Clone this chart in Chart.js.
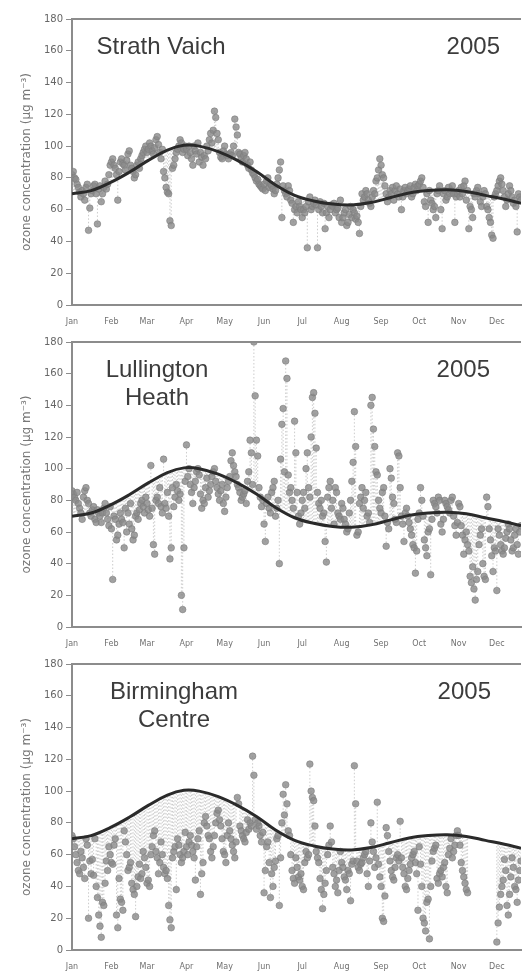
<!DOCTYPE html>
<html>
<head>
<meta charset="utf-8">
<title>Ozone concentration 2005</title>
<script src="https://cdn.jsdelivr.net/npm/chart.js"></script>
<style>
  html, body { margin: 0; padding: 0; background: #fff; overflow: hidden; }
  canvas { position: absolute; left: 0; }
</style>
</head>
<body>
<canvas id="c1" width="526" height="330" style="top:0px"></canvas>
<canvas id="c2" width="526" height="322" style="top:330px"></canvas>
<canvas id="c3" width="526" height="319" style="top:652px"></canvas>
<script>
const monthLabels = ["Jan", "Feb", "Mar", "Apr", "May", "Jun", "Jul", "Aug", "Sep", "Oct", "Nov", "Dec"];
const monthStarts = [0, 31, 59, 90, 120, 151, 181, 212, 243, 273, 304, 334];
const lastDay = 353;
const yTicks = [0, 20, 40, 60, 80, 100, 120, 140, 160, 180];

// seasonal curve (same in every panel), day of year -> ug m-3
const curveDays = [0, 15, 30, 45, 60, 75, 88, 100, 115, 130, 145, 160, 175, 190, 205, 220, 235, 250, 265, 280, 295, 310, 325, 340, 353];
const curveValues = [70, 72, 77, 83.5, 91, 97.5, 100.5, 100, 96.5, 91, 84, 75.5, 69, 65.5, 63.5, 63, 64.5, 67.5, 70.5, 72, 72.5, 71.5, 69, 66.5, 64];

// daily values, one per day from 1 Jan
const strathVaich = [
  82,84,80,79,76,74,71,68,72,70,66,74,76,47,61,70,72,75,76,70,51,73,75,65,70,74,78,73,76,82,88, // Jan
  90,92,88,86,82,66,84,90,92,89,88,85,91,95,97,88,86,84,80,82,88,90,86,92,94,96,98,100, // Feb
  96,98,102,100,97,95,99,104,106,101,96,92,98,84,80,74,71,70,53,50,86,88,92,96,98,100,104,102,96,98,100, // Mar
  98,94,100,96,92,88,100,97,95,102,90,96,93,88,94,92,100,97,104,108,102,110,122,118,108,104,96,93,92,97, // Apr
  100,95,94,92,95,96,94,100,117,112,107,96,95,92,90,94,96,92,88,86,90,85,83,82,80,78,79,76,75,74,73, // May
  76,72,78,80,74,76,75,73,70,72,76,80,85,90,55,75,72,70,68,75,72,66,64,52,60,62,58,65,62,60, // Jun
  55,60,58,62,36,65,68,60,62,64,66,63,36,60,65,62,58,64,48,58,62,55,60,63,62,64,58,60,61,55,66, // Jul
  52,55,58,60,50,52,57,62,55,60,58,54,56,52,45,62,70,66,68,72,70,66,64,62,68,72,70,78,80,85,92, // Aug
  88,82,80,75,70,65,68,72,70,74,66,72,75,70,68,73,60,68,72,74,70,72,73,75,68,70,74,76,72,75, // Sep
  76,78,80,74,65,62,70,52,72,66,64,60,62,55,70,72,75,60,48,70,72,66,68,74,70,72,75,70,52,68,70, // Oct
  72,68,74,70,75,78,66,72,48,62,60,55,70,68,72,74,70,65,62,68,72,70,62,60,55,52,44,42,68,70, // Nov
  72,75,78,80,76,72,68,62,66,70,75,72,68,64,66,62,46,70,68,66 // Dec
];

const lullingtonHeath = [
  86,84,82,80,85,78,75,72,68,82,86,88,80,78,72,70,74,76,68,66,74,72,70,66,72,75,78,72,68,64,76, // Jan
  62,30,70,68,55,58,65,72,68,66,50,75,60,72,65,78,62,55,58,70,72,68,74,78,80,76,72,82, // Feb
  78,74,70,102,75,52,46,80,82,78,88,76,72,106,78,75,85,70,43,50,88,76,82,90,86,80,84,20,11,50,92, // Mar
  115,95,100,90,85,78,88,92,98,100,96,84,75,80,78,88,94,82,86,90,95,98,100,92,88,84,80,86,90,78, // Apr
  73,82,88,92,95,105,110,102,98,95,90,88,85,80,82,84,86,78,92,98,118,110,90,180,146,118,108,88,82,76,80, // May
  65,54,78,82,75,72,85,88,92,70,75,80,40,106,128,138,98,168,157,96,85,88,80,75,130,110,85,70,65,72, // Jun
  80,85,75,100,110,88,82,120,145,148,135,113,85,78,75,80,70,72,54,41,82,88,92,75,80,65,88,85,72,70,68, // Jul
  78,75,68,65,60,62,72,80,92,104,136,114,58,60,78,82,88,75,80,85,70,72,66,140,145,125,114,98,96,80,75, // Aug
  72,85,88,70,51,66,62,100,94,82,78,68,66,110,108,88,70,65,54,72,75,70,66,62,58,52,50,34,48,68, // Sep
  72,88,80,70,55,50,45,60,62,33,68,80,78,76,72,82,80,65,60,68,80,78,76,74,72,80,82,70,64,58,66, // Oct
  78,76,64,58,46,55,60,52,48,32,28,38,24,17,30,35,52,58,62,40,32,30,82,76,62,55,45,35,50,48, // Nov
  23,62,58,52,48,46,50,56,60,65,62,55,48,50,58,62,52,46,60,64 // Dec
];

const birminghamCentre = [
  72,70,65,60,55,50,48,62,58,52,45,70,66,20,56,48,57,47,70,40,33,22,15,8,30,28,42,56,50,65,60, // Jan
  55,54,66,70,22,14,45,32,30,25,75,68,60,50,52,55,42,38,35,21,40,46,54,45,48,62,58,52, // Feb
  42,44,40,60,65,72,75,62,58,48,55,68,60,52,48,50,45,28,19,14,58,62,65,38,70,66,60,55,58,62,74, // Mar
  65,60,68,72,66,62,58,44,65,70,75,35,48,55,80,84,78,72,70,62,58,65,72,80,86,88,82,78,70,62, // Apr
  60,55,72,80,75,70,66,62,58,68,96,92,78,75,72,70,68,74,82,76,80,78,122,110,82,76,80,78,72,68,74, // May
  36,50,65,68,55,33,48,40,52,56,70,72,28,58,80,98,85,104,92,75,72,60,50,45,42,58,52,46,44,48, // Jun
  40,38,55,62,58,60,117,100,96,94,78,62,58,55,45,38,26,35,42,50,60,66,78,68,52,48,40,44,36,50,62, // Jul
  55,52,46,44,38,50,48,31,54,56,116,92,56,52,50,54,55,58,60,62,48,40,56,80,68,62,52,58,93,54,46, // Aug
  40,20,18,34,77,72,62,56,50,46,44,52,58,60,56,81,58,52,48,40,38,45,50,54,58,60,62,55,48,25, // Sep
  65,54,40,20,17,12,30,32,7,40,56,62,64,66,45,42,48,50,46,52,55,40,36,60,64,70,58,62,66,72,75, // Oct
  72,66,55,50,46,42,38,36,null,null,null,null,null,null,null,null,null,null,null,null,null,null,null,null,null,null,null,null,null,null, // Nov
  5,17,27,35,40,44,57,50,28,22,35,46,58,52,40,38,30,44,50,56 // Dec
];

const panels = [
  { id: "c1", values: strathVaich, name: ["Strath Vaich"], padTop: 19, xAxisHeight: 25, nameX: 89, yearX: 428 },
  { id: "c2", values: lullingtonHeath, name: ["Lullington", "Heath"], padTop: 12, xAxisHeight: 25, nameX: 85, yearX: 418 },
  { id: "c3", values: birminghamCentre, name: ["Birmingham", "Centre"], padTop: 12, xAxisHeight: 21, nameX: 102, yearX: 419 }
];

const axisGrey = "#8c8c8c";

// dotted stems from each day to the seasonal curve, frame top, and labels
const decorPlugin = {
  id: "decor",
  beforeDatasetsDraw(chart) {
    const { ctx, chartArea } = chart;
    const curve = chart.getDatasetMeta(0).dataset;
    curve.updateControlPoints(chartArea, "x");
    const pts = chart.getDatasetMeta(1).data;
    ctx.save();
    ctx.beginPath();
    ctx.rect(chartArea.left, chartArea.top, chartArea.right - chartArea.left, chartArea.bottom - chartArea.top);
    ctx.clip();
    ctx.strokeStyle = "rgba(170,170,170,0.6)";
    ctx.lineWidth = 1;
    ctx.setLineDash([1.5, 2]);
    pts.forEach((pt) => {
      if (pt.skip) return;
      let c = curve.interpolate({ x: pt.x }, "x");
      if (!c) return;
      if (Array.isArray(c)) c = c[0];
      ctx.beginPath();
      ctx.moveTo(pt.x, pt.y);
      ctx.lineTo(pt.x, c.y);
      ctx.stroke();
    });
    ctx.restore();
  },
  afterDraw(chart, args, opts) {
    const { ctx, chartArea } = chart;
    ctx.save();
    ctx.strokeStyle = axisGrey;
    ctx.lineWidth = 2;
    ctx.beginPath();
    ctx.moveTo(chartArea.left - 1, chartArea.top);
    ctx.lineTo(chartArea.right, chartArea.top);
    ctx.stroke();

    ctx.fillStyle = "#3c3c3c";
    ctx.font = '24px "Liberation Sans", Arial, sans-serif';
    ctx.textBaseline = "middle";
    ctx.textAlign = "center";
    opts.name.forEach((line, i) => {
      ctx.fillText(line, chartArea.left + opts.nameX, chartArea.top + 28 + i * 28);
    });
    ctx.textAlign = "right";
    ctx.fillText("2005", chartArea.left + opts.yearX, chartArea.top + 28);
    ctx.restore();
  }
};

function makeChart(panel) {
  return new Chart(document.getElementById(panel.id), {
    type: "scatter",
    data: {
      datasets: [
        {
          type: "line",
          data: curveDays.map((d, i) => ({ x: d, y: curveValues[i] })),
          borderColor: "#2a2a2a",
          borderWidth: 3,
          pointRadius: 0,
          tension: 0.4,
          fill: false,
          order: 0,
        },
        {
          type: "scatter",
          data: panel.values.map((v, i) => ({ x: i, y: v })),
          pointRadius: 3.3,
          backgroundColor: "rgba(138,138,138,0.8)",
          borderColor: "rgba(125,125,125,0.6)",
          borderWidth: 1,
          order: 1,
        },
      ],
    },
    options: {
      responsive: false,
      animation: false,
      devicePixelRatio: 1,
      events: [],
      layout: { padding: { top: panel.padTop, right: 0, bottom: 0, left: 0 } },
      plugins: {
        legend: { display: false },
        tooltip: { enabled: false },
        decor: { name: panel.name, nameX: panel.nameX, yearX: panel.yearX },
      },
      scales: {
        x: {
          type: "linear",
          min: 0,
          max: lastDay,
          grid: { display: false, drawTicks: false },
          border: { color: axisGrey, width: 2 },
          afterBuildTicks: (s) => {
            s.ticks = monthStarts.map((v) => ({ value: v }));
          },
          afterFit: (s) => {
            s.height = panel.xAxisHeight;
          },
          ticks: {
            autoSkip: false,
            maxRotation: 0,
            padding: 12,
            color: "#707070",
            font: { family: "DejaVu Sans", size: 8 },
            callback: (v) => monthLabels[monthStarts.indexOf(v)],
          },
        },
        y: {
          min: 0,
          max: 180,
          afterBuildTicks: (s) => {
            s.ticks = yTicks.map((v) => ({ value: v }));
          },
          afterFit: (s) => {
            s.width = 72;
          },
          grid: { drawOnChartArea: false, drawTicks: true, tickLength: 6, color: axisGrey },
          border: { color: axisGrey, width: 2 },
          ticks: {
            padding: 3,
            color: "#666",
            font: { family: "DejaVu Sans", size: 10 },
          },
          title: {
            display: true,
            text: "ozone concentration (µg m⁻³)",
            color: "#777",
            font: { family: "DejaVu Sans", size: 12 },
            padding: { top: 20, bottom: 0 },
          },
        },
      },
    },
    plugins: [decorPlugin],
  });
}

panels.forEach(makeChart);
</script>
</body>
</html>
